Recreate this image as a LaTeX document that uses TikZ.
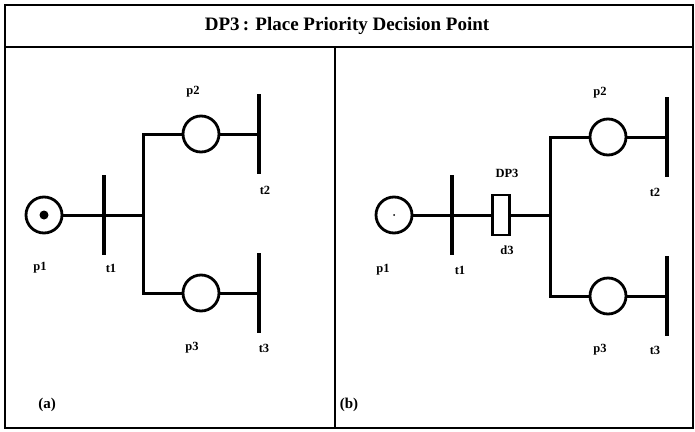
\documentclass[tikz,border=0pt]{standalone}
\usepackage{fontspec}
\setmainfont{Liberation Serif}
\usetikzlibrary{positioning}

\begin{document}
\begin{tikzpicture}[x=1pt, y=-1pt,
    place/.style={circle, draw, line width=2.8pt, minimum size=36pt, inner sep=0pt},
    trans/.style={rectangle, fill=black, minimum width=3.5pt, minimum height=80pt, inner sep=0pt},
    dpbox/.style={rectangle, draw, fill=white, line width=2.2pt, minimum width=17pt, minimum height=40pt, inner sep=0pt},
    arc/.style={line width=3pt},
    tag/.style={font=\fontsize{12.5}{14}\selectfont\bfseries, inner sep=0pt},
    frame/.style={line width=2.6pt}
]
\useasboundingbox (0,0) rectangle (695,431);
% outer frame, title row and the split between the two nets
\draw[frame] (5,5) rectangle (693,428);
\draw[frame] (5,47) -- (693,47);
\coordinate (split) at (335,47);
\coordinate (splitend) at (335,428);
\draw[frame] (split) -- (splitend);
\node[font=\fontsize{19}{22}\selectfont\bfseries] (title) at (347,26) {DP3\,: Place Priority Decision Point};

% (a) plain net
\node[place] (p1a) at (44,215) {};
\node[trans] (t1a) at (104,215) {};
\node[place] (p2a) at (201,134) {};
\node[trans] (t2a) at (259,134) {};
\node[place] (p3a) at (201,293) {};
\node[trans] (t3a) at (259,293) {};
\coordinate (ja) at (143,215);
\fill (p1a.center) circle (4.5pt);
\draw[arc] (p1a) -- (ja);
\draw[arc] (p2a) -| (ja) |- (p3a);
\draw[arc] (p2a) -- (t2a);
\draw[arc] (p3a) -- (t3a);
\node[tag] (lp1a) at (40,268) {p1};
\node[tag] (lt1a) at (111,268) {t1};
\node[tag] (lp2a) at (193,92) {p2};
\node[tag] (lt2a) at (265,190) {t2};
\node[tag] (lp3a) at (192,348) {p3};
\node[tag] (lt3a) at (264,348) {t3};
\node[font=\fontsize{15}{17}\selectfont\bfseries] (capa) at (47,405) {(a)};

% (b) same net with the decision point d3
\node[place] (p1b) at (394,215) {};
\node[trans] (t1b) at (452,215) {};
\node[dpbox] (d3) at (501,215) {};
\node[place] (p2b) at (608,137) {};
\node[trans] (t2b) at (667,137) {};
\node[place] (p3b) at (608,296) {};
\node[trans] (t3b) at (667,296) {};
\coordinate (jb) at (550,215);
\fill (p1b.center) circle (1pt);
\draw[arc] (p1b) -- (d3);
\draw[arc] (d3) -- (jb);
\draw[arc] (p2b) -| (jb) |- (p3b);
\draw[arc] (p2b) -- (t2b);
\draw[arc] (p3b) -- (t3b);
\node[tag] (ldp) at (507,173) {DP3};
\node[tag] (ld3) at (507,250) {d3};
\node[tag] (lp1b) at (383,270) {p1};
\node[tag] (lt1b) at (460,270) {t1};
\node[tag] (lp2b) at (600,93) {p2};
\node[tag] (lt2b) at (655,192) {t2};
\node[tag] (lp3b) at (600,350) {p3};
\node[tag] (lt3b) at (655,350) {t3};
\node[font=\fontsize{15}{17}\selectfont\bfseries] (capb) at (349,405) {(b)};
\end{tikzpicture}
\end{document}
